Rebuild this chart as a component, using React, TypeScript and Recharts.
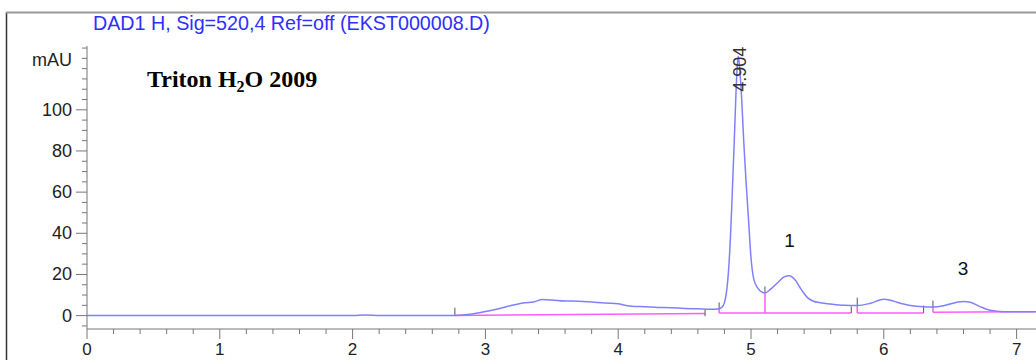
import { LineChart, Line, XAxis, YAxis, ReferenceLine, ReferenceDot } from "recharts"

// DAD1 H trace, retention time (min) vs absorbance (mAU)
const retentionTimes = [
  0, 0.5, 1, 1.5, 2, 2.1, 2.2, 2.5, 2.77, 2.9, 3.0, 3.1, 3.2, 3.3, 3.36, 3.43, 3.5, 3.6, 3.7, 3.8,
  3.9, 4.0, 4.05, 4.1, 4.2, 4.3, 4.4, 4.5, 4.6, 4.7, 4.75, 4.78, 4.8, 4.82, 4.83, 4.845, 4.855,
  4.865, 4.874, 4.885, 4.895, 4.904, 4.915, 4.93, 4.945, 4.96, 4.98, 5.0, 5.02, 5.05, 5.08, 5.105,
  5.15, 5.2, 5.25, 5.29, 5.33, 5.38, 5.43, 5.47, 5.52, 5.6, 5.7, 5.8, 5.9, 6.0, 6.05, 6.1, 6.2,
  6.3, 6.37, 6.45, 6.55, 6.6, 6.65, 6.72, 6.8, 6.9, 7.0, 7.15,
]
const absorbance = [
  0, 0, 0, 0, 0.1, 0.3, 0.1, 0, 0.1, 0.8, 2, 3.3, 5, 6.3, 6.6, 7.8, 7.6, 7.1, 7.0, 6.6,
  6.1, 5.8, 5.0, 4.6, 4.3, 4.0, 3.8, 3.5, 3.3, 3.1, 3.2, 4.0, 6.3, 14, 21, 38, 53,
  70, 85, 105, 120, 126, 120, 105, 85, 68, 48, 28, 18, 13.5, 11.5, 11,
  13, 16, 18.8, 19.4, 17.5, 12.5, 8.5, 7, 6.3, 5.6, 5.0, 4.9, 6.0, 8.0, 7.5, 6.5, 4.9,
  4.3, 4.2, 4.8, 6.5, 6.9, 6.5, 4.5, 2.6, 1.9, 1.9, 1.9,
]

// integration baselines [t1, y1, t2, y2]
const baselines = [
  [2.77, 0.1, 4.654, 1.0],
  [4.76, 1.3, 5.755, 1.3],
  [4.76, 3.2, 4.76, 1.3],
  [5.105, 11, 5.105, 1.3],
  [5.8, 1.3, 6.3, 1.3],
  [5.8, 4.5, 5.8, 1.3],
  [6.37, 1.6, 7.14, 1.9],
  [6.37, 4.0, 6.37, 1.6],
]

// peak start / end markers [t, yFrom, yTo]
const peakMarks = [
  [2.77, 0, 3.9],
  [4.654, -0.3, 3.0],
  [4.76, 3.2, 6.4],
  [5.105, 11, 14.2],
  [5.755, 1.3, 4.5],
  [5.8, 4.5, 8.7],
  [6.3, 1.3, 4.9],
  [6.37, 3.7, 7.3],
]

const peakRt = "4.904"
const notes = [
  { t: 5.29, y: 36.9, text: "1" },
  { t: 6.596, y: 23.3, text: "3" },
]

const majorTimeTicks = [0, 1, 2, 3, 4, 5, 6, 7]
const majorAbsTicks = [0, 20, 40, 60, 80, 100]
const unitTick = 125

const timeTicks = majorTimeTicks.flatMap((t) =>
  t === 7 ? [t] : [0, 0.2, 0.4, 0.6, 0.8].map((d) => Math.round((t + d) * 10) / 10)
)
const absTicks = Array.from({ length: 28 }, (_, i) => -5 + i * 5)

const data = retentionTimes.map((t, i) => ({ t, v: absorbance[i] }))

const sans = "'Liberation Sans', Arial, sans-serif"

function YTick({ x, y, payload }: any) {
  const v = payload.value
  const major = majorAbsTicks.includes(v)
  return (
    <g>
      <line x1={x - (major ? 11 : 5)} x2={x} y1={y} y2={y} stroke="#777" />
      {major && (
        <text x={x - 15} y={y + 6} textAnchor="end" fontSize={18} fontFamily={sans} fill="#222">
          {v}
        </text>
      )}
      {v === unitTick && (
        <text x={x - 15} y={y + 8} textAnchor="end" fontSize={18} fontFamily={sans} fill="#222">
          mAU
        </text>
      )}
    </g>
  )
}

function XTick({ x, y, payload }: any) {
  const v = payload.value
  const major = majorTimeTicks.includes(v)
  return (
    <g>
      <line x1={x} x2={x} y1={y} y2={y + (major ? 10 : 5)} stroke="#777" />
      {major && (
        <text x={x} y={y + 26} textAnchor="middle" fontSize={17} fontFamily={sans} fill="#222">
          {v}
        </text>
      )}
    </g>
  )
}

export default function App() {
  return (
    <div style={{ position: "absolute", left: 0, top: 0, width: 1036, height: 360, background: "#fff" }}>
      <LineChart width={1036} height={360} data={data} margin={{ top: 46, right: 0, bottom: 0, left: 0 }}>
        <XAxis
          dataKey="t"
          type="number"
          domain={[0, 7.146]}
          ticks={timeTicks}
          interval={0}
          tick={XTick}
          tickLine={false}
          tickSize={0}
          tickMargin={0}
          height={31}
          axisLine={{ stroke: "#777" }}
          allowDataOverflow
        />
        <YAxis
          type="number"
          domain={[-6.5, 131]}
          ticks={absTicks}
          interval={0}
          tick={YTick}
          tickLine={false}
          tickSize={0}
          tickMargin={0}
          width={87}
          axisLine={{ stroke: "#777" }}
          allowDataOverflow
        />
        {baselines.map(([t1, y1, t2, y2], i) => (
          <ReferenceLine
            key={"b" + i}
            segment={[{ x: t1, y: y1 }, { x: t2, y: y2 }]}
            stroke="#ff5cff"
            strokeWidth={1.5}
          />
        ))}
        {peakMarks.map(([t, a, b], i) => (
          <ReferenceLine key={"m" + i} segment={[{ x: t, y: a }, { x: t, y: b }]} stroke="#555" />
        ))}
        <Line
          type="monotone"
          dataKey="v"
          stroke="#8080ff"
          strokeWidth={1.5}
          dot={false}
          isAnimationActive={false}
        />
        <ReferenceDot
          x={4.904}
          y={119.7}
          r={0}
          fill="none"
          stroke="none"
          label={(p: any) => {
            const cx = p.viewBox.x + 2
            const cy = p.viewBox.y
            return (
              <text
                x={cx}
                y={cy}
                transform={`rotate(-90 ${cx} ${cy})`}
                textAnchor="middle"
                dy={6}
                fontSize={18}
                fontFamily={sans}
                fill="#333"
              >
                {peakRt}
              </text>
            )
          }}
        />
        {notes.map((n) => (
          <ReferenceDot
            key={n.text}
            x={n.t}
            y={n.y}
            r={0}
            fill="none"
            stroke="none"
            label={(p: any) => (
              <text x={p.viewBox.x} y={p.viewBox.y + 7} textAnchor="middle" fontSize={19} fontFamily={sans} fill="#111">
                {n.text}
              </text>
            )}
          />
        ))}
      </LineChart>
      <svg width={1036} height={360} style={{ position: "absolute", left: 0, top: 0, pointerEvents: "none" }}>
        <line x1={6.5} x2={6.5} y1={12} y2={360} stroke="#333" strokeWidth={1.5} />
        <line x1={6} x2={1036} y1={12.5} y2={12.5} stroke="#999" strokeWidth={2} />
        <text x={93} y={30} fontSize={19.7} fontFamily={sans} fill="#2f2fff">
          DAD1 H, Sig=520,4 Ref=off (EKST000008.D)
        </text>
        <text x={147} y={87} fontSize={24} fontWeight="bold" fontFamily="'Liberation Serif', 'Times New Roman', serif" fill="#000">
          Triton H<tspan fontSize={16} dy={5}>2</tspan>
          <tspan dy={-5}>O 2009</tspan>
        </text>
      </svg>
    </div>
  )
}
